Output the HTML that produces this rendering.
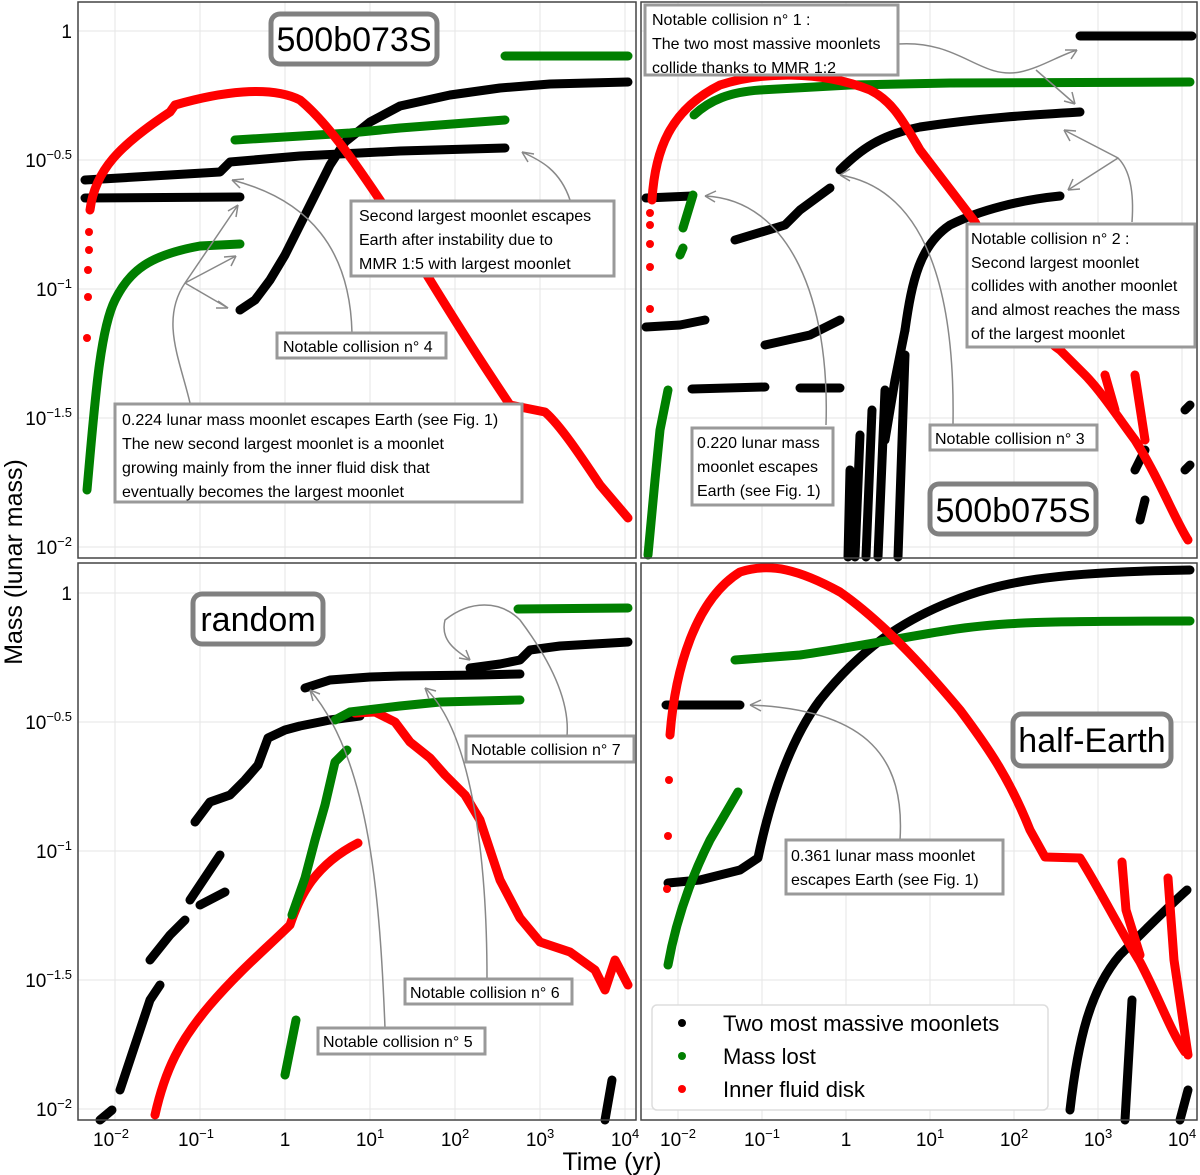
<!DOCTYPE html>
<html><head><meta charset="utf-8"><style>
body{margin:0;background:#fff}
svg{display:block;font-family:"Liberation Sans",sans-serif}
.b{fill:none;stroke:#000;stroke-width:9;stroke-linecap:round;stroke-linejoin:round}
.g{fill:none;stroke:#007f00;stroke-width:9;stroke-linecap:round;stroke-linejoin:round}
.r{fill:none;stroke:#f00;stroke-width:9;stroke-linecap:round;stroke-linejoin:round}
.grid{stroke:#e6e6e6;stroke-width:1}
.box{fill:#fff;stroke:#999;stroke-width:3}
.lab{fill:#fff;stroke:#808080;stroke-width:5}
.ar{fill:none;stroke:#888;stroke-width:1.5}
.t{font-size:16px}
.tk{font-size:19px}
</style></head><body>
<svg width="1200" height="1175" viewBox="0 0 1200 1175">
<g class="grid">
<line x1="115" y1="2" x2="115" y2="1120"/><line x1="200" y1="2" x2="200" y2="1120"/><line x1="285" y1="2" x2="285" y2="1120"/><line x1="370" y1="2" x2="370" y2="1120"/><line x1="455" y1="2" x2="455" y2="1120"/><line x1="540" y1="2" x2="540" y2="1120"/><line x1="625" y1="2" x2="625" y2="1120"/>
<line x1="678" y1="2" x2="678" y2="1120"/><line x1="762" y1="2" x2="762" y2="1120"/><line x1="846" y1="2" x2="846" y2="1120"/><line x1="930" y1="2" x2="930" y2="1120"/><line x1="1014" y1="2" x2="1014" y2="1120"/><line x1="1098" y1="2" x2="1098" y2="1120"/><line x1="1182" y1="2" x2="1182" y2="1120"/>
<line x1="78" y1="31" x2="1197" y2="31"/><line x1="78" y1="160" x2="1197" y2="160"/><line x1="78" y1="289" x2="1197" y2="289"/><line x1="78" y1="418" x2="1197" y2="418"/><line x1="78" y1="547" x2="1197" y2="547"/>
<line x1="78" y1="593" x2="1197" y2="593"/><line x1="78" y1="722" x2="1197" y2="722"/><line x1="78" y1="851" x2="1197" y2="851"/><line x1="78" y1="980" x2="1197" y2="980"/><line x1="78" y1="1109" x2="1197" y2="1109"/>
</g>
<line x1="78" x2="1197" y1="560.5" y2="560.5" stroke="#fff" stroke-width="5"/>
<line x1="638.5" x2="638.5" y1="2" y2="1120" stroke="#fff" stroke-width="4"/>

<!-- TL -->
<polyline class="b" points="85,180 220,172 230,162 300,156 400,151 505,148"/>
<polyline class="b" points="85,198 240,197"/>
<polyline class="b" points="240,310 255,300 270,280 285,255 300,225 315,195 330,165 345,142 370,122 400,106 450,95 500,88 550,84 628,82"/>
<path class="g" d="M87,490 C95,400 100,330 115,300 C130,270 150,255 200,246 L240,244"/>
<polyline class="g" points="235,140 350,133 400,128 505,120"/>
<polyline class="g" points="505,56 628,56"/>
<g fill="#f00"><circle cx="87" cy="338" r="4"/><circle cx="88" cy="297" r="4"/><circle cx="88" cy="270" r="4"/><circle cx="89" cy="250" r="4"/><circle cx="89" cy="232" r="4"/></g>
<path class="r" d="M90,210 C95,170 120,145 170,112 L175,105 C220,92 270,85 300,100 C330,125 360,170 390,215 L430,280 C470,345 490,375 510,405 L545,412 C560,425 580,455 600,485 L628,518"/>

<!-- TR -->
<polyline class="b" points="1080,36 1192,36"/>
<polyline class="b" points="646,198 692,196"/>
<polyline class="b" points="646,327 680,325 705,320"/>
<polyline class="b" points="692,389 765,387"/><polyline class="b" points="800,388 840,388"/>
<polyline class="b" points="735,240 785,225 800,210 830,188"/>
<polyline class="b" points="765,345 810,335 840,320"/>
<path class="b" d="M840,170 C860,150 880,135 920,127 C980,118 1030,115 1080,112"/>
<path class="b" d="M905,330 C912,280 920,245 950,225 C980,210 1020,200 1060,196"/>
<polyline class="b" points="905,330 895,380 885,440"/>
<polyline class="b" points="850,470 848,557"/><polyline class="b" points="860,435 855,557"/><polyline class="b" points="872,410 866,557"/><polyline class="b" points="885,390 878,557"/><polyline class="b" points="905,355 898,557"/>
<polyline class="b" points="1135,470 1145,450"/><polyline class="b" points="1140,520 1145,500"/><polyline class="b" points="1185,410 1190,405"/><polyline class="b" points="1185,470 1190,465"/>
<polyline class="g" points="648,555 655,480 660,430 668,390"/><polyline class="g" points="680,255 683,248"/><polyline class="g" points="683,228 693,195"/>
<path class="g" d="M694,115 C710,100 730,92 760,90 L850,85 L950,83 L1190,82"/>
<g fill="#f00"><circle cx="650" cy="213" r="4"/><circle cx="650" cy="225" r="4"/><circle cx="650" cy="244" r="4"/><circle cx="650" cy="267" r="4"/><circle cx="650" cy="309" r="4"/></g>
<path class="r" d="M652,200 C655,150 670,110 720,85 C760,72 820,70 870,90 C890,100 900,115 920,150 L975,222 C1000,270 1030,330 1060,350 L1085,375 C1100,390 1120,420 1135,440 C1160,480 1175,520 1188,540"/>
<polyline class="r" points="1105,375 1115,410"/><polyline class="r" points="1135,375 1145,440"/>

<!-- BL -->
<polyline class="b" points="305,688 330,680 370,677 400,676 480,675 520,674"/>
<polyline class="b" points="470,668 500,664 520,660 530,650 560,646 628,642"/>
<polyline class="b" points="195,822 210,802 230,795 245,780 258,765 268,738 285,730 300,726 330,720 360,716"/>
<polyline class="b" points="190,900 210,870 220,855"/><polyline class="b" points="150,960 170,935 185,920"/><polyline class="b" points="200,905 225,892"/>
<polyline class="b" points="120,1090 140,1030 150,1000 160,985"/><polyline class="b" points="100,1120 112,1110"/>
<polyline class="b" points="605,1120 612,1080"/>
<path class="r" d="M155,1115 C165,1070 180,1040 210,1005 C240,970 270,945 290,925 C300,895 315,865 358,843"/>
<polyline class="r" points="355,713 375,712 395,722 410,742 430,758 445,775 465,795 480,820 500,880 520,918 540,942 570,952 595,970 605,990 615,960 628,985"/>
<polyline class="g" points="285,1075 292,1040 296,1020"/><polyline class="g" points="292,915 305,878 315,840 325,805 335,762 347,750"/>
<polyline class="g" points="335,720 350,712 400,706 440,702 520,700"/>
<polyline class="g" points="518,609 628,608"/>

<!-- BR -->
<polyline class="b" points="666,705 740,705"/>
<path class="b" d="M668,883 L700,880 L740,870 L758,858 C770,800 790,740 820,700 C860,650 900,622 950,602 C1000,582 1050,572 1190,570"/>
<path class="b" d="M1070,1110 C1078,1040 1090,990 1120,955 C1150,925 1170,905 1187,890"/><polyline class="b" points="1125,1120 1132,1000"/><polyline class="b" points="1180,1120 1188,1090"/>
<path class="g" d="M668,965 C676,920 690,880 710,840 L738,792"/>
<path class="g" d="M735,660 L800,655 C850,648 900,638 950,630 C1000,622 1050,621 1190,621"/>
<g fill="#f00"><circle cx="667" cy="889" r="4"/><circle cx="668" cy="836" r="4"/><circle cx="669" cy="780" r="4"/></g>
<path class="r" d="M670,735 C675,670 695,600 740,572 C770,562 800,570 840,592 C880,620 920,662 960,710 C990,750 1010,780 1030,830 L1045,857 L1080,858 C1100,890 1120,930 1140,962 C1160,1000 1170,1030 1185,1052"/>
<polyline class="r" points="1122,862 1126,910 1140,955"/><polyline class="r" points="1168,878 1174,960 1188,1055"/>

<g fill="none" stroke="#444" stroke-width="1.5">
<rect x="78" y="2" width="558" height="556"/><rect x="641" y="2" width="556" height="556"/>
<rect x="78" y="563" width="558" height="557"/><rect x="641" y="563" width="556" height="557"/>
</g>
<g class="tk" text-anchor="end">
<text x="72" y="38">1</text><text x="72" y="167">10<tspan font-size="13" dy="-8">−0.5</tspan></text><text x="72" y="296">10<tspan font-size="13" dy="-8">−1</tspan></text><text x="72" y="425">10<tspan font-size="13" dy="-8">−1.5</tspan></text><text x="72" y="554">10<tspan font-size="13" dy="-8">−2</tspan></text>
<text x="72" y="600">1</text><text x="72" y="729">10<tspan font-size="13" dy="-8">−0.5</tspan></text><text x="72" y="858">10<tspan font-size="13" dy="-8">−1</tspan></text><text x="72" y="987">10<tspan font-size="13" dy="-8">−1.5</tspan></text><text x="72" y="1116">10<tspan font-size="13" dy="-8">−2</tspan></text>
</g>
<g class="tk" text-anchor="middle">
<text x="111" y="1146">10<tspan font-size="13" dy="-8">−2</tspan></text><text x="196" y="1146">10<tspan font-size="13" dy="-8">−1</tspan></text><text x="285" y="1146">1</text><text x="370" y="1146">10<tspan font-size="13" dy="-8">1</tspan></text><text x="455" y="1146">10<tspan font-size="13" dy="-8">2</tspan></text><text x="540" y="1146">10<tspan font-size="13" dy="-8">3</tspan></text><text x="625" y="1146">10<tspan font-size="13" dy="-8">4</tspan></text>
<text x="678" y="1146">10<tspan font-size="13" dy="-8">−2</tspan></text><text x="762" y="1146">10<tspan font-size="13" dy="-8">−1</tspan></text><text x="846" y="1146">1</text><text x="930" y="1146">10<tspan font-size="13" dy="-8">1</tspan></text><text x="1014" y="1146">10<tspan font-size="13" dy="-8">2</tspan></text><text x="1098" y="1146">10<tspan font-size="13" dy="-8">3</tspan></text><text x="1182" y="1146">10<tspan font-size="13" dy="-8">4</tspan></text>
</g>
<text x="612" y="1170" font-size="25" text-anchor="middle">Time (yr)</text>
<text transform="translate(22,562) rotate(-90)" font-size="25" text-anchor="middle">Mass (lunar mass)</text>

<g class="ar">
<path d="M570,200 C560,170 540,160 522,152"/><path d="M522,152 l12,2 M522,152 l6,10"/>
<path d="M352,333 C350,250 310,200 232,180"/><path d="M232,180 l12,-1 M232,180 l8,8"/>
<path d="M190,403 C180,360 160,320 185,283 L238,205 M185,283 L236,256 M185,283 L228,308"/>
<path d="M238,205 l-2,12 M238,205 l-10,6 M236,256 l-12,1 M236,256 l-5,10 M228,308 l-10,-7 M228,308 l-12,0"/>
<path d="M898,44 C960,40 980,80 1020,72 C1040,68 1060,55 1077,50 M1036,70 L1075,104"/>
<path d="M1077,50 l-12,0 M1077,50 l-6,9 M1075,104 l-3,-12 M1075,104 l-11,-3"/>
<path d="M1132,222 C1135,180 1125,165 1118,158 L1064,130 M1118,158 L1068,190"/>
<path d="M1064,130 l6,11 M1064,130 l12,1 M1068,190 l5,-11 M1068,190 l12,-1"/>
<path d="M826,425 C830,300 790,200 705,196"/><path d="M705,196 l11,-5 M705,196 l10,6"/>
<path d="M953,424 C955,300 930,190 840,175"/><path d="M840,175 l10,-6 M840,175 l10,6"/>
<path d="M567,736 C570,700 550,660 520,620 C500,600 470,600 445,620 C440,640 455,650 470,660"/><path d="M470,660 l-4,-10 M470,660 l-11,-2"/>
<path d="M487,979 C487,850 470,730 425,688"/><path d="M425,688 l4,11 M425,688 l11,3"/>
<path d="M385,1028 C380,900 370,760 310,690"/><path d="M310,690 l3,11 M310,690 l10,4"/>
<path d="M900,840 C905,760 870,710 750,705"/><path d="M750,705 l11,-5 M750,705 l11,6"/>
</g>

<rect class="box" x="351" y="201" width="263" height="75"/>
<text class="t" x="359" y="221">Second largest moonlet escapes</text><text class="t" x="359" y="245">Earth after instability due to</text><text class="t" x="359" y="269">MMR 1:5 with largest moonlet</text>
<rect class="box" x="277" y="333" width="169" height="25"/><text class="t" x="283" y="352">Notable collision n° 4</text>
<rect class="box" x="115" y="404" width="407" height="98"/>
<text class="t" x="122" y="425">0.224 lunar mass moonlet escapes Earth (see Fig. 1)</text><text class="t" x="122" y="449">The new second largest moonlet is a moonlet</text><text class="t" x="122" y="473">growing mainly from the inner fluid disk that</text><text class="t" x="122" y="497">eventually becomes the largest moonlet</text>
<rect class="box" x="645" y="5" width="253" height="70"/>
<text class="t" x="652" y="25">Notable collision n° 1 :</text><text class="t" x="652" y="49">The two most massive moonlets</text><text class="t" x="652" y="73">collide thanks to MMR 1:2</text>
<rect class="box" x="967" y="224" width="228" height="123"/>
<text class="t" x="971" y="244">Notable collision n° 2 :</text><text class="t" x="971" y="268">Second largest moonlet</text><text class="t" x="971" y="291">collides with another moonlet</text><text class="t" x="971" y="315">and almost reaches the mass</text><text class="t" x="971" y="339">of the largest moonlet</text>
<rect class="box" x="692" y="428" width="141" height="77"/>
<text class="t" x="697" y="448">0.220 lunar mass</text><text class="t" x="697" y="472">moonlet escapes</text><text class="t" x="697" y="496">Earth (see Fig. 1)</text>
<rect class="box" x="930" y="425" width="167" height="25"/><text class="t" x="935" y="444">Notable collision n° 3</text>
<rect class="box" x="466" y="736" width="168" height="26"/><text class="t" x="471" y="755">Notable collision n° 7</text>
<rect class="box" x="405" y="979" width="167" height="25"/><text class="t" x="410" y="998">Notable collision n° 6</text>
<rect class="box" x="318" y="1028" width="167" height="26"/><text class="t" x="323" y="1047">Notable collision n° 5</text>
<rect class="box" x="786" y="840" width="217" height="54"/>
<text class="t" x="791" y="861">0.361 lunar mass moonlet</text><text class="t" x="791" y="885">escapes Earth (see Fig. 1)</text>

<rect class="lab" x="271" y="14" width="166" height="50" rx="9"/><text x="354" y="51" font-size="34" text-anchor="middle">500b073S</text>
<rect class="lab" x="930" y="484" width="166" height="50" rx="9"/><text x="1013" y="522" font-size="34" text-anchor="middle">500b075S</text>
<rect class="lab" x="193" y="594" width="130" height="50" rx="9"/><text x="258" y="631" font-size="34" text-anchor="middle">random</text>
<rect class="lab" x="1013" y="714" width="158" height="52" rx="9"/><text x="1092" y="752" font-size="34" text-anchor="middle">half-Earth</text>

<rect x="652" y="1005" width="396" height="105" rx="5" fill="#fff" stroke="#ddd" stroke-width="1.5"/>
<circle cx="682" cy="1023" r="4"/><circle cx="682" cy="1056" r="4" fill="#007f00"/><circle cx="682" cy="1089" r="4" fill="#f00"/>
<text x="723" y="1031" font-size="22">Two most massive moonlets</text><text x="723" y="1064" font-size="22">Mass lost</text><text x="723" y="1097" font-size="22">Inner fluid disk</text>
</svg>
</body></html>
